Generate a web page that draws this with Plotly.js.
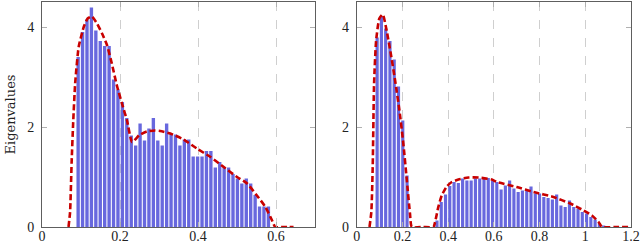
<!DOCTYPE html>
<html><head><meta charset="utf-8">
<script src="https://cdn.plot.ly/plotly-3.0.1.min.js"></script>
<style>html,body{margin:0;padding:0;background:#fff}#chart{width:640px;height:244px}</style>
</head><body><div id="chart"></div>
<script>
// Left panel histogram
const leftBinStart = 0.087;
const leftBinWidth = 0.011345;
const leftHeights = [3.4, 3.9, 4.15, 4.39, 3.93, 3.72, 3.62, 3.62, 2.95, 2.75, 2.5, 2.18, 1.83,
  1.63, 2.07, 1.73, 1.97, 2.18, 1.73, 1.63, 2.07, 1.87, 1.85, 1.63, 1.75, 1.75,
  1.41, 1.41, 1.41, 1.52, 1.52, 1.19, 1.3, 1.2, 1.19, 1.06, 0.97, 0.87, 0.97, 0.87, 0.64, 0.41, 0.41, 0.41];
// Right panel histogram
const rightBinStart = 0.08;
const rightBinWidth = 0.0187;
const rightHeights = [3.79, 4.21, 3.97, 3.72, 3.35, 2.81, 2.13, 1.03,
  0, 0, 0, 0, 0, 0,
  0.13, 0.5, 0.65, 0.82, 0.9, 0.88, 0.97, 0.93, 0.93, 0.97, 0.97, 0.98, 0.98, 0.93, 0.9, 0.75,
  0.83, 0.93, 0.77, 0.7, 0.73, 0.73, 0.81, 0.67, 0.67, 0.6, 0.58, 0.55, 0.65, 0.43, 0.4, 0.53,
  0.4, 0.37, 0.3, 0.27, 0.2, 0.15, 0.08, 0.03];
// Theoretical density curves
const leftCurveX = [0.068, 0.072, 0.076, 0.080, 0.085, 0.094, 0.107, 0.117, 0.128, 0.141, 0.154, 0.167, 0.179, 0.192, 0.205, 0.218, 0.231,
  0.25, 0.269, 0.29, 0.303, 0.329, 0.363, 0.397, 0.432, 0.466, 0.5, 0.526, 0.551, 0.573, 0.59, 0.598, 0.62, 0.645];
const leftCurveY = [0, 0.3, 1.3, 2.1, 2.87, 3.6, 4.0, 4.17, 4.21, 4.07, 3.87, 3.63, 3.27, 2.83, 2.47, 2.13, 1.7,
  1.84, 1.91, 1.93, 1.92, 1.87, 1.75, 1.57, 1.4, 1.2, 1.0, 0.87, 0.63, 0.4, 0.13, 0, 0, 0];
const rightCurveX = [0.056, 0.064, 0.07, 0.076, 0.085, 0.099, 0.114, 0.131, 0.149, 0.168, 0.187, 0.204, 0.222, 0.233, 0.241,
  0.29, 0.336, 0.343, 0.357, 0.372, 0.394, 0.416, 0.445, 0.489, 0.533, 0.591, 0.613, 0.7, 0.774, 0.861, 0.934, 0.993, 1.029, 1.058, 1.073, 1.13, 1.197];
const rightCurveY = [0, 0.3, 1.2, 2.87, 3.73, 4.17, 4.25, 3.93, 3.47, 2.93, 2.33, 1.67, 0.8, 0.27, 0,
  0, 0, 0.1, 0.4, 0.63, 0.81, 0.9, 0.95, 0.99, 0.99, 0.95, 0.9, 0.8, 0.7, 0.6, 0.47, 0.33, 0.23, 0.1, 0, 0, 0];
// Ticks
const leftTicks = [0, 0.2, 0.4, 0.6];
const leftTickText = ['0', '0.2', '0.4', '0.6'];
const rightTicks = [0, 0.2, 0.4, 0.6, 0.8, 1, 1.2];
const rightTickText = ['0', '0.2', '0.4', '0.6', '0.8', '1', '1.2'];
const yTicks = [0, 2, 4];
const yTickText = ['0', '2', '4'];
const yTitle = 'Eigenvalues';

const barColor = 'rgb(104,104,222)';
const curveColor = '#c80000';
const centers = (start, w, n) => Array.from({length: n}, (_, i) => start + (i + 0.5) * w);

const traces = [
  {type: 'bar', x: centers(leftBinStart, leftBinWidth, leftHeights.length), y: leftHeights,
   width: leftBinWidth * 0.76, marker: {color: barColor, line: {width: 0}}, xaxis: 'x', yaxis: 'y', hoverinfo: 'skip'},
  {type: 'scatter', mode: 'lines', x: leftCurveX, y: leftCurveY, xaxis: 'x', yaxis: 'y',
   line: {color: curveColor, width: 2.6, dash: '6px,3px', shape: 'spline', smoothing: 0.5}, hoverinfo: 'skip'},
  {type: 'bar', x: centers(rightBinStart, rightBinWidth, rightHeights.length), y: rightHeights,
   width: rightBinWidth * 0.74, marker: {color: barColor, line: {width: 0}}, xaxis: 'x2', yaxis: 'y2', hoverinfo: 'skip'},
  {type: 'scatter', mode: 'lines', x: rightCurveX, y: rightCurveY, xaxis: 'x2', yaxis: 'y2',
   line: {color: curveColor, width: 2.6, dash: '6px,3px', shape: 'spline', smoothing: 0.5}, hoverinfo: 'skip'}
];

const titleFont = {family: 'DejaVu Serif', size: 13, color: '#222'};
const tickFont = {family: 'Liberation Serif', size: 14, color: '#222'};
const xBase = {
  showline: true, mirror: 'ticks', linecolor: '#5e5e5e', linewidth: 1,
  ticks: 'inside', ticklen: 5, tickcolor: '#b0b0b0', tickwidth: 1,
  showgrid: true, griddash: 'dash', gridcolor: '#cfcfcf', gridwidth: 1,
  zeroline: false, tickmode: 'array', tickfont: tickFont, ticklabelstandoff: -4,
  ticklabeloverflow: 'allow', automargin: false
};
const yBase = {
  showline: true, mirror: 'ticks', linecolor: '#5e5e5e', linewidth: 1,
  ticks: 'inside', ticklen: 5, tickcolor: '#b0b0b0', tickwidth: 1,
  showgrid: false, zeroline: false, range: [0, 4.5],
  tickmode: 'array', tickvals: yTicks, ticktext: yTickText, tickfont: tickFont, ticklabelstandoff: 4, automargin: false
};

const layout = {
  width: 640, height: 244,
  margin: {l: 42, r: 9, t: 2, b: 17},
  paper_bgcolor: '#fff', plot_bgcolor: '#fff',
  showlegend: false, font: tickFont,
  xaxis: Object.assign({}, xBase, {domain: [0, 0.4635], range: [0, 0.7], tickvals: leftTicks, ticktext: leftTickText, anchor: 'y'}),
  yaxis: Object.assign({}, yBase, {domain: [0, 1], anchor: 'x', title: {text: yTitle, font: titleFont, standoff: 8}}),
  xaxis2: Object.assign({}, xBase, {domain: [0.5343, 1], range: [0, 1.2], tickvals: rightTicks, ticktext: rightTickText, anchor: 'y2'}),
  yaxis2: Object.assign({}, yBase, {domain: [0, 1], anchor: 'x2'})
};

Plotly.newPlot('chart', traces, layout, {staticPlot: true, displayModeBar: false});
</script>
</body></html>
